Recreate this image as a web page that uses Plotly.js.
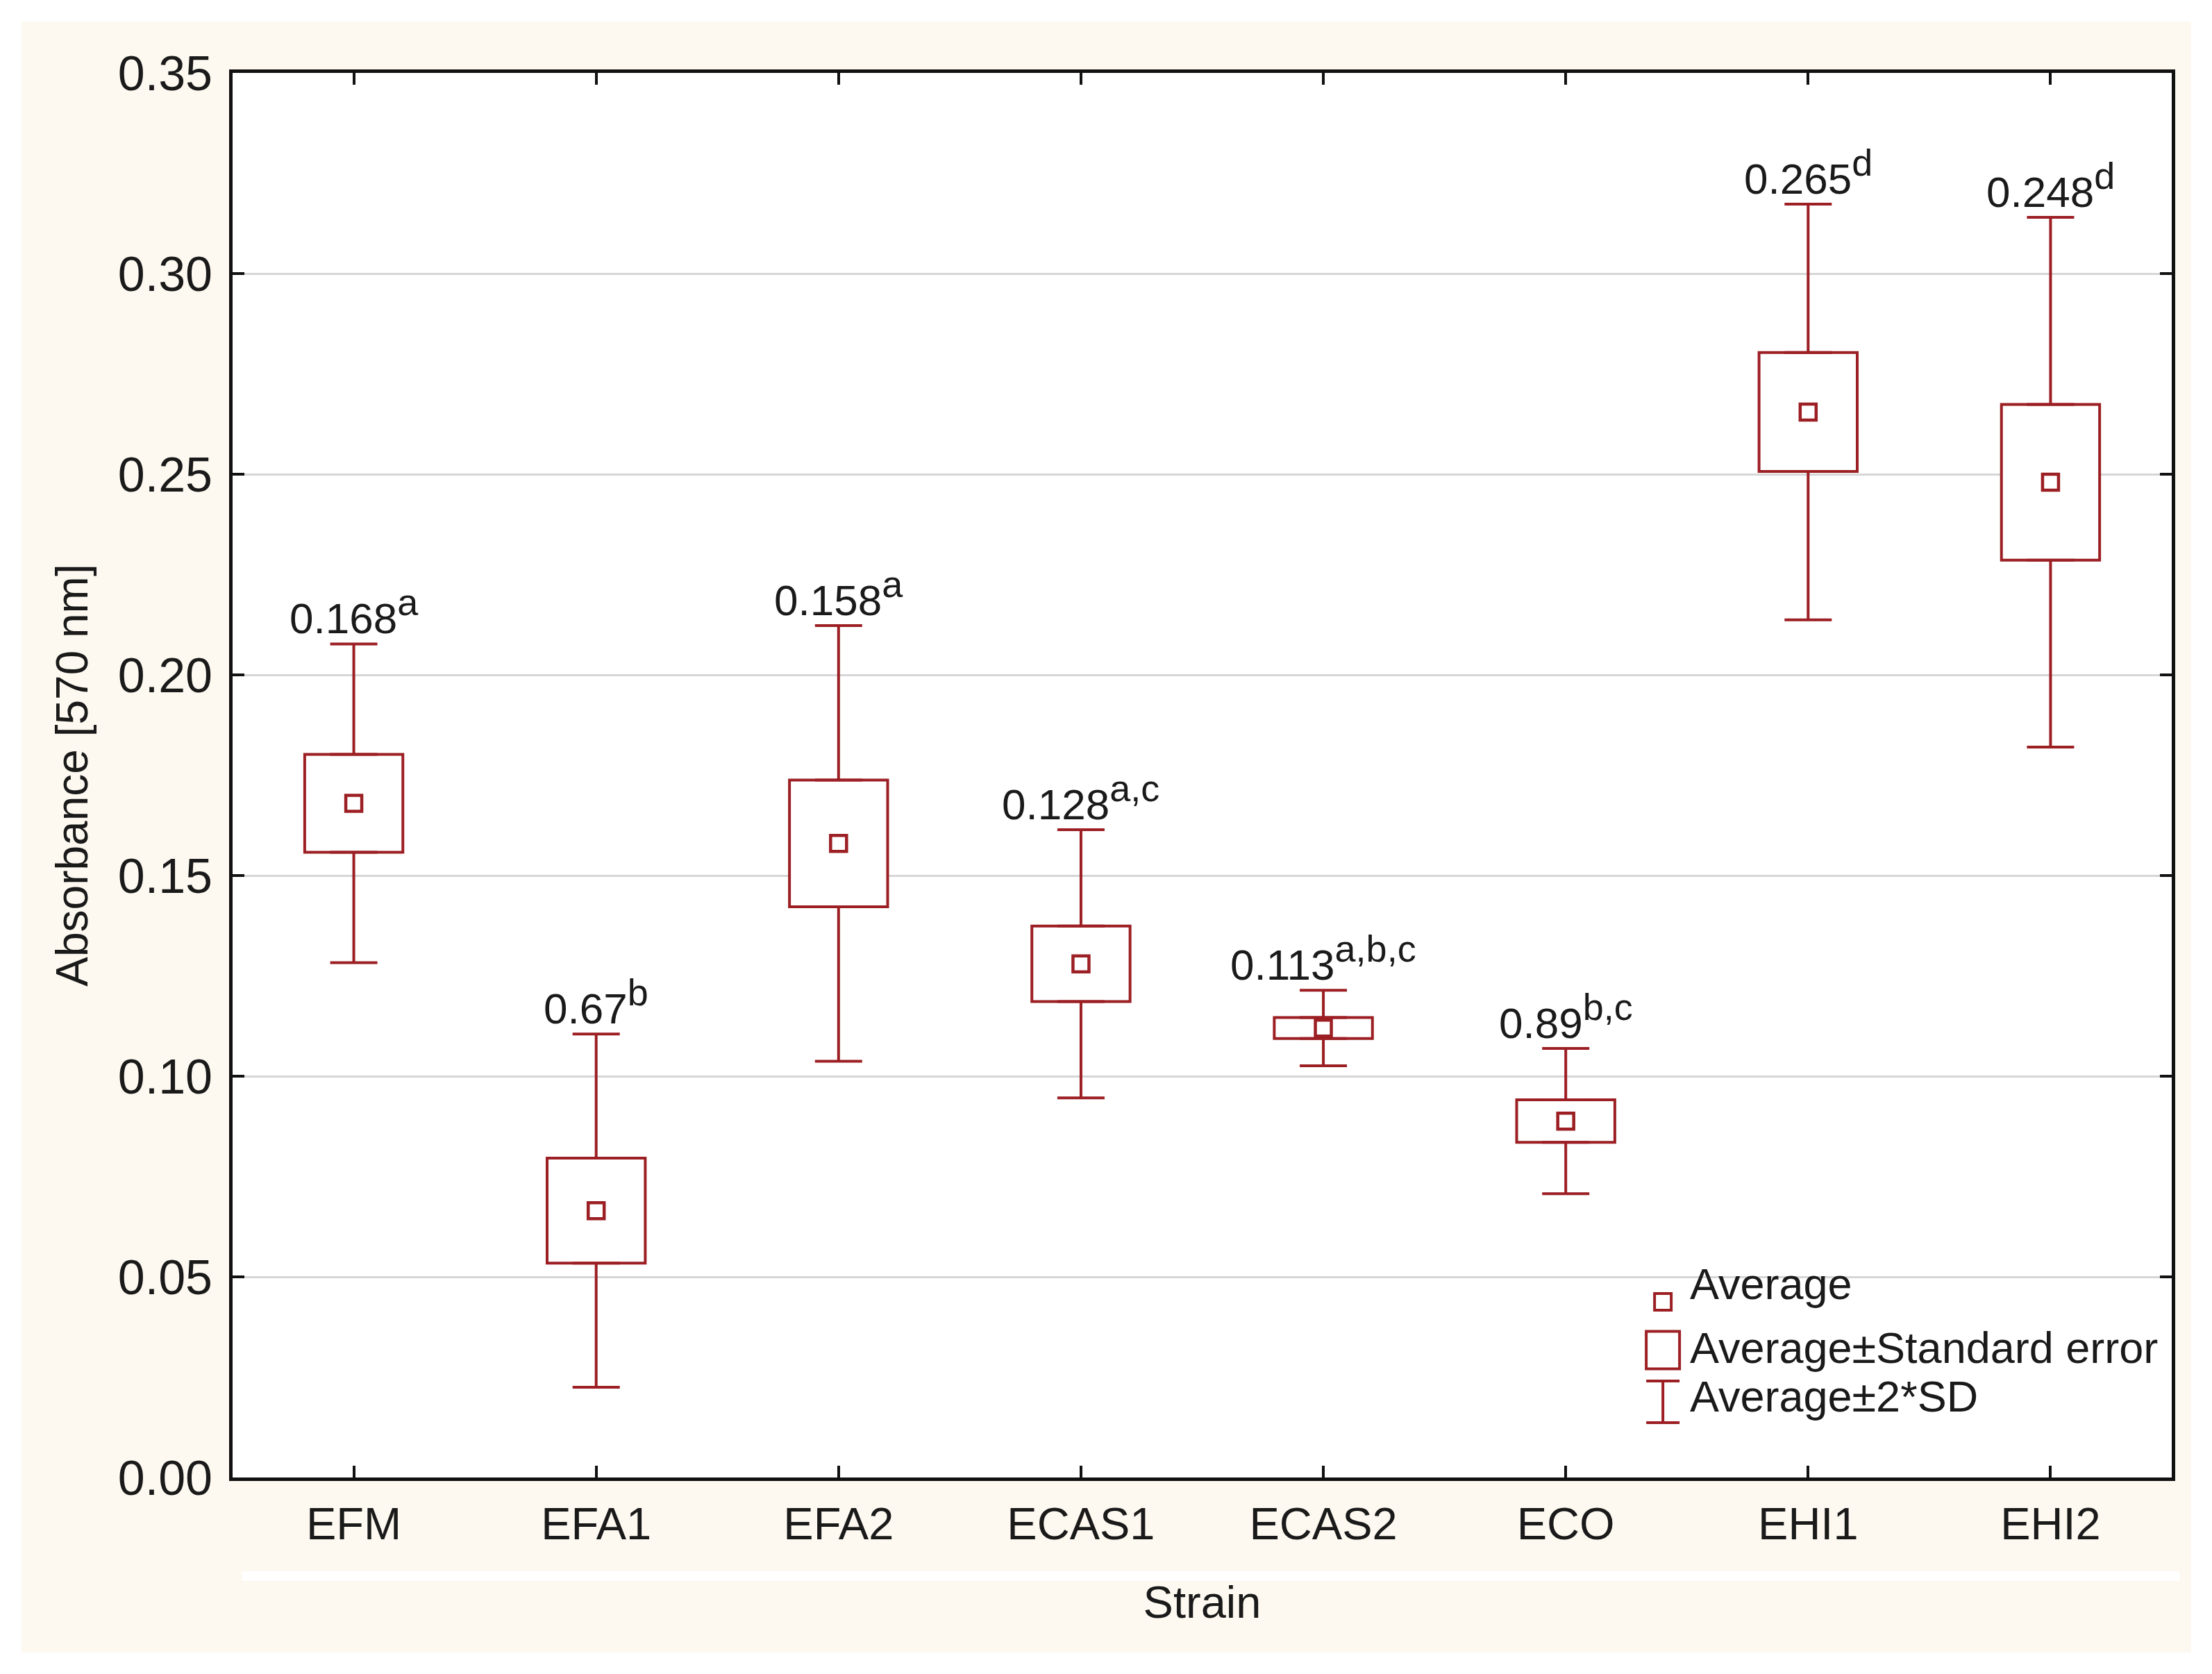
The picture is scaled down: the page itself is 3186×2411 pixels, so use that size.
<!DOCTYPE html>
<html>
<head>
<meta charset="utf-8">
<script src="https://cdn.plot.ly/plotly-3.0.1.min.js"></script>
<style>
  html, body { margin: 0; padding: 0; background: #ffffff; }
  #chart { position: absolute; left: 31px; top: 31px; width: 3125px; height: 2349px; }
</style>
</head>
<body>
<div id="chart"></div>
<script>
// Absorbance (570 nm) per strain: average, standard error and 2*SD
const strains = ['EFM', 'EFA1', 'EFA2', 'ECAS1', 'ECAS2', 'ECO', 'EHI1', 'EHI2'];
const means = [0.168, 0.0665, 0.158, 0.128, 0.112, 0.0888, 0.2655, 0.248];
const stdErr = [0.0122, 0.0131, 0.0158, 0.0094, 0.0026, 0.0053, 0.0148, 0.0194];
const twoSD = [0.0397, 0.0440, 0.0543, 0.0334, 0.0094, 0.0181, 0.0518, 0.0660];
const meanLabels = ['0.168', '0.67', '0.158', '0.128', '0.113', '0.89', '0.265', '0.248'];
const groupLetters = ['a', 'b', 'a', 'a,c', 'a,b,c', 'b,c', 'd', 'd'];

const RED = '#9c1f24';
const INK = '#1a1a1a';
const FONT = 'Liberation Sans, Arial, sans-serif';

// whisker pieces: from box edge out to +/- 2SD
const zeros = strains.map(() => 0);
const whiskerLen = twoSD.map((v, i) => v - stdErr[i]);

const seBox = {
    x: strains,
    y: stdErr.map(v => 2 * v),
    base: means.map((m, i) => m - stdErr[i]),
    type: 'bar',
    width: 0.405,
    marker: { color: '#ffffff', line: { color: RED, width: 4 } },
    showlegend: false,
    hoverinfo: 'skip'
};

const upperWhisker = {
    x: strains,
    y: means.map((m, i) => m + stdErr[i]),
    type: 'scatter',
    mode: 'markers',
    marker: { size: 1, opacity: 0 },
    error_y: { type: 'data', symmetric: false, array: whiskerLen, arrayminus: zeros,
               color: RED, thickness: 4, width: 34 },
    showlegend: false,
    hoverinfo: 'skip'
};

const lowerWhisker = {
    x: strains,
    y: means.map((m, i) => m - stdErr[i]),
    type: 'scatter',
    mode: 'markers',
    marker: { size: 1, opacity: 0 },
    error_y: { type: 'data', symmetric: false, array: zeros, arrayminus: whiskerLen,
               color: RED, thickness: 4, width: 34 },
    showlegend: false,
    hoverinfo: 'skip'
};

const avg = {
    x: strains,
    y: means,
    type: 'scatter',
    mode: 'markers',
    marker: { symbol: 'square-open', size: 23, color: RED, line: { color: RED, width: 4.5 } },
    showlegend: false
};

// value labels with significance letters above the whiskers
const labels = strains.map((s, i) => ({
    x: s,
    y: means[i] + twoSD[i],
    xref: 'x', yref: 'y',
    text: meanLabels[i] + '<sup><span style="font-size:54px">' + groupLetters[i] + '</span></sup>',
    showarrow: false,
    yanchor: 'bottom',
    font: { family: FONT, size: 62, color: INK }
}));

// hand-made legend (bottom right, inside the plot)
const legX = 0.7376;
const legText = [
    { text: 'Average', y: 0.1196 },
    { text: 'Average\u00b1Standard error', y: 0.0741 },
    { text: 'Average\u00b12*SD', y: 0.0395 }
].map(t => ({
    x: 0.7508, y: t.y, xref: 'paper', yref: 'paper',
    xanchor: 'left', yanchor: 'bottom', showarrow: false, text: t.text,
    font: { family: FONT, size: 63, color: INK }
}));

function pxShape(yAnchor, x0, x1, y0, y1, type) {
    return {
        type: type, xref: 'paper', yref: 'paper',
        xsizemode: 'pixel', ysizemode: 'pixel',
        xanchor: legX, yanchor: yAnchor,
        x0: x0, x1: x1, y0: y0, y1: y1,
        line: { color: RED, width: 4 }, fillcolor: 'rgba(0,0,0,0)'
    };
}

const shapes = [
    // faint light strip under the category labels
    { type: 'line', xref: 'paper', yref: 'paper', x0: 0.005, x1: 1.004, y0: -0.0702, y1: -0.0702,
      line: { color: '#ffffff', width: 14 }, layer: 'below' },
    pxShape(0.1251, -12, 12, -12, 12, 'rect'),
    pxShape(0.0907, -24, 24, -27, 27, 'rect'),
    pxShape(0.0539, 0, 0, -30, 30, 'line'),
    pxShape(0.0539, -24, 24, 30, 30, 'line'),
    pxShape(0.0539, -24, 24, -30, -30, 'line')
];

const layout = {
    width: 3125,
    height: 2349,
    margin: { l: 304, r: 28, t: 74, b: 252 },
    paper_bgcolor: '#fdf9f0',
    plot_bgcolor: '#ffffff',
    font: { family: FONT, size: 64, color: INK },
    showlegend: false,
    barmode: 'overlay',
    xaxis: {
        type: 'category',
        range: [-0.5, 7.5],
        showline: true, linecolor: '#111111', linewidth: 5, mirror: 'ticks',
        ticks: 'inside', ticklen: 17, tickwidth: 4, tickcolor: '#111111',
        ticklabelstandoff: 6,
        tickfont: { family: FONT, size: 65, color: INK },
        showgrid: false, zeroline: false,
        title: { text: 'Strain', standoff: 56, font: { family: FONT, size: 65, color: INK } }
    },
    yaxis: {
        range: [0, 0.35],
        dtick: 0.05,
        tickformat: '.2f',
        showline: true, linecolor: '#111111', linewidth: 5, mirror: 'ticks',
        ticks: 'inside', ticklen: 17, tickwidth: 4, tickcolor: '#111111',
        ticklabelstandoff: 10,
        tickfont: { family: FONT, size: 70, color: INK },
        showgrid: true, gridcolor: '#d6d6d6', gridwidth: 3,
        zeroline: false,
        title: { text: 'Absorbance [570 nm]', standoff: 24, font: { family: FONT, size: 64, color: INK } }
    },
    annotations: labels.concat(legText),
    shapes: shapes
};

Plotly.newPlot('chart', [seBox, upperWhisker, lowerWhisker, avg], layout,
    { displayModeBar: false, staticPlot: true });
</script>
</body>
</html>
